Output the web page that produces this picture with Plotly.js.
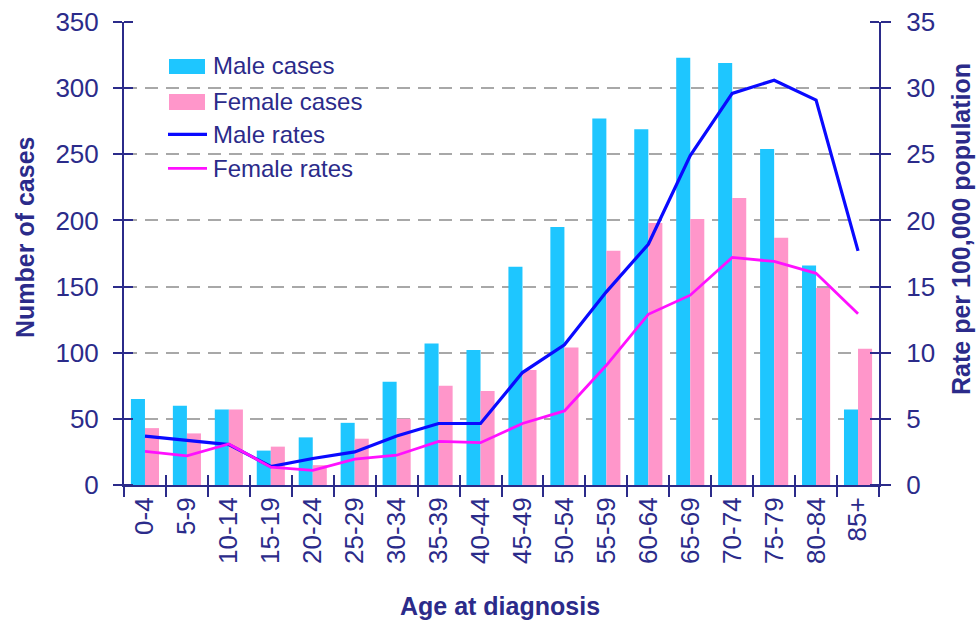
<!DOCTYPE html>
<html>
<head>
<meta charset="utf-8">
<script src="https://cdn.plot.ly/plotly-3.0.1.min.js"></script>
<style>
  html, body { margin: 0; padding: 0; background: #ffffff; }
  #chart { width: 979px; height: 623px; }
</style>
</head>
<body>
<div id="chart"></div>
<script>
// ---- data ----
const ages = ['0-4','5-9','10-14','15-19','20-24','25-29','30-34','35-39','40-44',
              '45-49','50-54','55-59','60-64','65-69','70-74','75-79','80-84','85+'];
const maleCases   = [65, 60, 57, 26, 36, 47, 78, 107, 102, 165, 195, 277, 269, 323, 319, 254, 166, 57];
const femaleCases = [43, 39, 57, 29, 15, 35, 50, 75, 71, 87, 104, 177, 198, 201, 217, 187, 149, 103];
const maleRates   = [3.7, 3.35, 3.05, 1.4, 2.0, 2.5, 3.7, 4.65, 4.65, 8.5, 10.6, 14.6, 18.2, 24.9, 29.6, 30.6, 29.1, 17.7];
const femaleRates = [2.55, 2.2, 3.1, 1.35, 1.1, 1.95, 2.25, 3.3, 3.2, 4.65, 5.6, 9.05, 12.9, 14.35, 17.2, 16.9, 16.0, 12.95];
const seriesNames = ['Male cases', 'Female cases', 'Male rates', 'Female rates'];
const leftTicks  = [0, 50, 100, 150, 200, 250, 300, 350];
const rightTicks = [0, 5, 10, 15, 20, 25, 30, 35];

// ---- styles ----
const NAVY = '#2b2b8a';
const CYAN = '#1ec6ff';
const PINK = '#ff96ca';
const BLUE = '#0a0aff';
const MAGENTA = '#ff10ff';
const FONT = 'Liberation Sans, Arial, sans-serif';

const traces = [
  { type: 'bar', name: seriesNames[0], x: ages, y: maleCases,
    marker: { color: CYAN, line: { width: 0 } }, xaxis: 'x', yaxis: 'y', showlegend: false },
  { type: 'bar', name: seriesNames[1], x: ages, y: femaleCases,
    marker: { color: PINK, line: { width: 0 } }, xaxis: 'x', yaxis: 'y', showlegend: false },
  { type: 'scatter', mode: 'lines', name: seriesNames[2], x: ages, y: maleRates,
    line: { color: BLUE, width: 3.2 }, xaxis: 'x', yaxis: 'y2', showlegend: false },
  { type: 'scatter', mode: 'lines', name: seriesNames[3], x: ages, y: femaleRates,
    line: { color: MAGENTA, width: 2.8 }, xaxis: 'x', yaxis: 'y2', showlegend: false },
  // invisible helper trace so the tick-only overlay x axis (inner half of crossing ticks) is drawn
  { type: 'scatter', mode: 'none', x: ages, y: maleCases, xaxis: 'x2', yaxis: 'y',
    showlegend: false, hoverinfo: 'skip' }
];

// plot area in pixels: x 124..879, y 22..485
const L = 124, R = 879, T = 22, B = 485;
const px = v => (v - L) / (R - L);
const py = v => (B - v) / (B - T);

// custom legend (swatches + labels)
const legendRows = [65, 101, 134.3, 168.3];
const shapes = [
  { type: 'rect', xref: 'paper', yref: 'paper', x0: px(169), x1: px(205), y0: py(74), y1: py(59), fillcolor: CYAN, line: { width: 0 } },
  { type: 'rect', xref: 'paper', yref: 'paper', x0: px(169), x1: px(205), y0: py(110), y1: py(94), fillcolor: PINK, line: { width: 0 } },
  { type: 'line', xref: 'paper', yref: 'paper', x0: px(168), x1: px(207), y0: py(legendRows[2]), y1: py(legendRows[2]), line: { color: BLUE, width: 3.2 } },
  { type: 'line', xref: 'paper', yref: 'paper', x0: px(168), x1: px(207), y0: py(legendRows[3]), y1: py(legendRows[3]), line: { color: MAGENTA, width: 2.8 } }
];
const annotations = seriesNames.map((n, i) => ({
  xref: 'paper', yref: 'paper', x: px(211), y: py(legendRows[i]),
  xanchor: 'left', yanchor: 'middle', showarrow: false, text: n,
  font: { family: FONT, size: 24, color: NAVY }
}));
annotations.push(
  { xref: 'paper', yref: 'paper', x: px(500), y: py(606), xanchor: 'center', yanchor: 'middle',
    showarrow: false, text: '<b>Age at diagnosis</b>', font: { family: FONT, size: 25, color: NAVY } },
  { xref: 'paper', yref: 'paper', x: px(25), y: py(238), xanchor: 'center', yanchor: 'middle', textangle: -90,
    showarrow: false, text: '<b>Number of cases</b>', font: { family: FONT, size: 25, color: NAVY } },
  { xref: 'paper', yref: 'paper', x: px(961), y: py(229), xanchor: 'center', yanchor: 'middle', textangle: -90,
    showarrow: false, text: '<b>Rate per 100,000 population</b>', font: { family: FONT, size: 25, color: NAVY } }
);

const tickFont = { family: FONT, size: 26, color: NAVY };
// minor ticks sit (imperceptibly) beside each major tick so they are kept: they form the inner half of the crossing ticks
const nudge = v => v + 0.001;

const layout = {
  width: 979, height: 623,
  margin: { l: L, r: 979 - R, t: T, b: 623 - B, pad: 0 },
  paper_bgcolor: '#ffffff', plot_bgcolor: '#ffffff',
  barmode: 'group', bargap: 0.33, bargroupgap: 0,
  showlegend: false,
  font: { family: FONT, color: NAVY },
  xaxis: {
    type: 'category', categoryorder: 'array', categoryarray: ages,
    range: [-0.5, ages.length - 0.5],
    tickson: 'boundaries', ticks: 'outside', ticklen: 10, tickwidth: 2, tickcolor: NAVY,
    showline: true, linecolor: NAVY, linewidth: 2, showgrid: false, zeroline: false,
    tickangle: -90, tickfont: tickFont, automargin: false, fixedrange: true
  },
  xaxis2: {
    overlaying: 'x', anchor: 'y', side: 'bottom', type: 'category',
    categoryorder: 'array', categoryarray: ages, range: [-0.5, ages.length - 0.5],
    tickson: 'boundaries', ticks: 'inside', ticklen: 10, tickwidth: 2, tickcolor: NAVY,
    showticklabels: false, showgrid: false, showline: false, zeroline: false, fixedrange: true
  },
  yaxis: {
    range: [0, 350], tickmode: 'array', tickvals: leftTicks,
    ticks: 'outside', ticklen: 9, tickwidth: 2, tickcolor: NAVY,
    minor: { tickmode: 'array', tickvals: leftTicks.map(nudge), ticks: 'inside', ticklen: 9, tickwidth: 2, tickcolor: NAVY, showgrid: false },
    showline: true, linecolor: NAVY, linewidth: 2,
    showgrid: true, gridcolor: '#a8a8a8', gridwidth: 2, griddash: '13px,8px',
    zeroline: false, tickfont: tickFont, ticklabelstandoff: 9, automargin: false, fixedrange: true
  },
  yaxis2: {
    overlaying: 'y', side: 'right', anchor: 'x', range: [0, 35], tickmode: 'array', tickvals: rightTicks,
    ticks: 'outside', ticklen: 10, tickwidth: 2, tickcolor: NAVY,
    minor: { tickmode: 'array', tickvals: rightTicks.map(nudge), ticks: 'inside', ticklen: 9, tickwidth: 2, tickcolor: NAVY, showgrid: false },
    showline: true, linecolor: NAVY, linewidth: 2, showgrid: false, zeroline: false,
    tickfont: tickFont, ticklabelstandoff: 10, automargin: false, fixedrange: true
  },
  shapes: shapes,
  annotations: annotations
};

Plotly.newPlot('chart', traces, layout, { displayModeBar: false, staticPlot: true });
</script>
</body>
</html>
